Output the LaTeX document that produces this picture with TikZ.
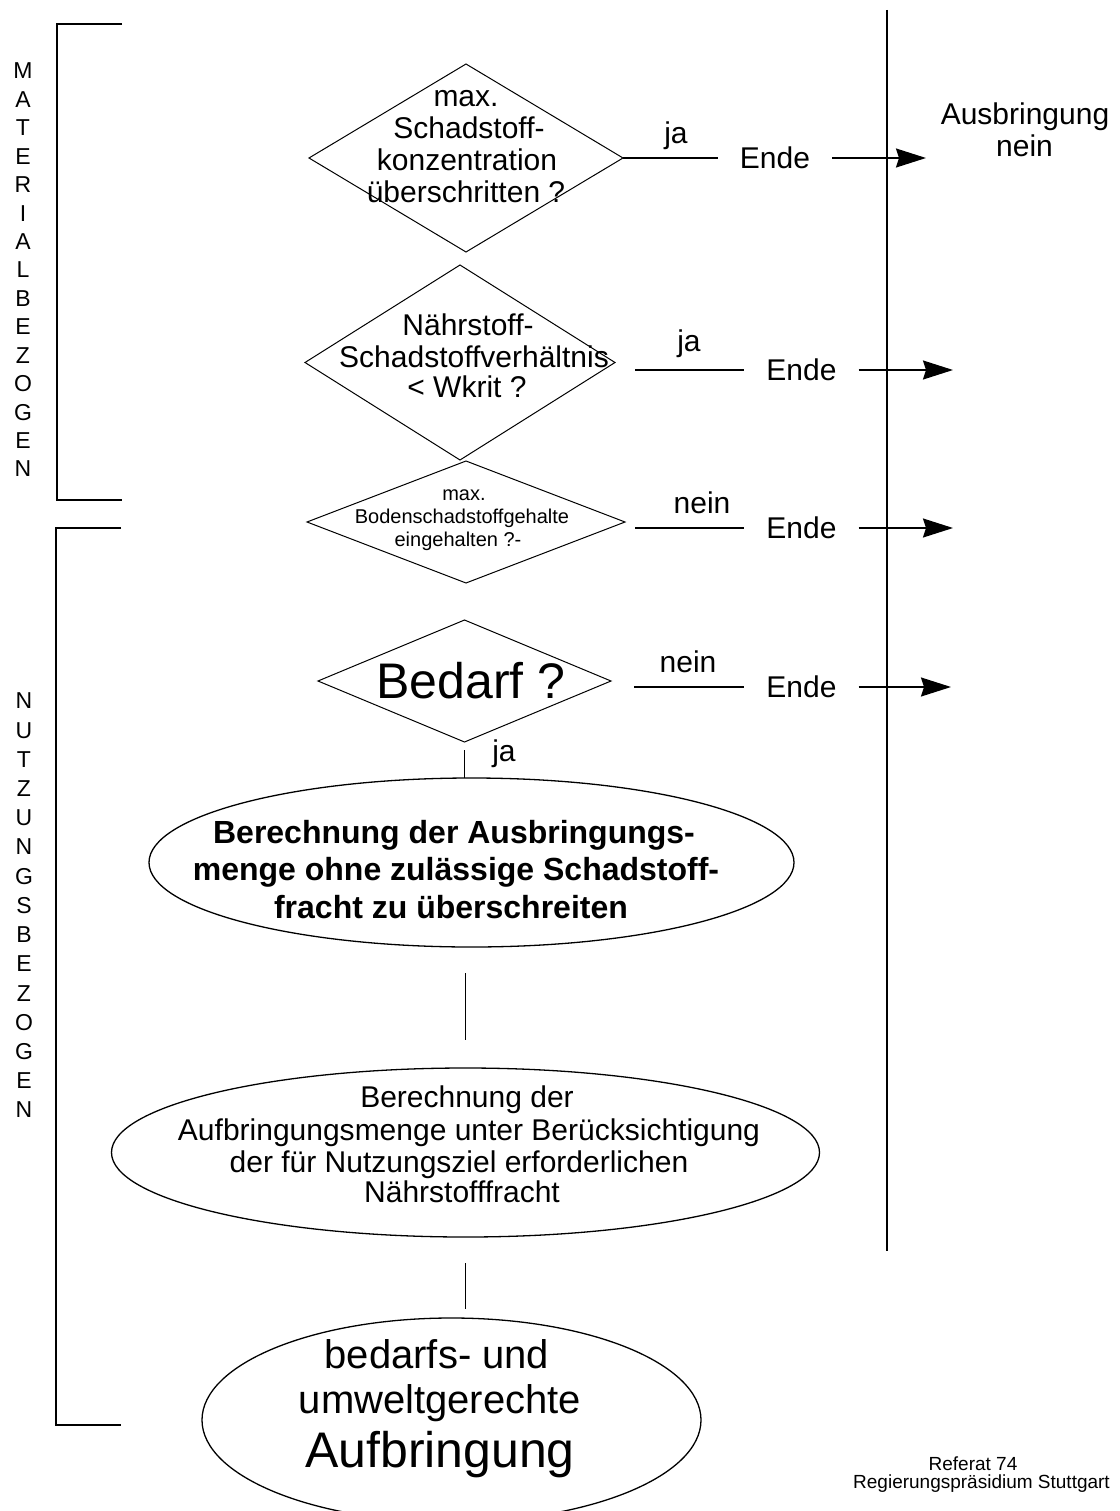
\documentclass[tikz,border=0pt]{standalone}
\usepackage{fontspec}
\setmainfont{Liberation Sans}
\usetikzlibrary{shapes.geometric,arrows.meta}
\begin{document}
\begin{tikzpicture}[x=1pt,y=-1pt,
  every node/.style={inner sep=0pt, outer sep=0pt},
  dia/.style={draw, diamond, line width=1pt},
  ell/.style={draw, ellipse, line width=1.3pt},
  conn/.style={line width=1.5pt},
  bracketline/.style={line width=2pt},
  arr/.style={line width=1.5pt, -{Stealth[length=30pt,width=19pt,inset=3pt]}},
  t30/.style={font=\fontsize{30}{32}\selectfont, anchor=base},
  t20/.style={font=\fontsize{20}{22}\selectfont, anchor=base},
  tb32/.style={font=\fontsize{32}{36}\selectfont\bfseries, anchor=base},
  t40/.style={font=\fontsize{40}{44}\selectfont, anchor=base},
  t50/.style={font=\fontsize{50}{54}\selectfont, anchor=base},
  t19/.style={font=\fontsize{19}{21}\selectfont, anchor=base},
  ende/.style={font=\fontsize{30}{32}\selectfont, inner xsep=22pt},
  vlet/.style={font=\fontsize{23}{23}\selectfont}
]
\fill[white] (0,0) rectangle (1119,1511);
\useasboundingbox (0,0) rectangle (1119,1511);

% brackets and vertical line
\draw[bracketline] (122,24) -- (57,24) -- (57,500) -- (122,500);
\draw[bracketline] (121,528) -- (56,528) -- (56,1425) -- (121,1425);
\draw[bracketline] (887,10) -- (887,1251);

% vertical labels
\foreach \c [count=\i from 0] in {M,A,T,E,R,I,A,L,B,E,Z,O,G,E,N}
  \node[vlet] (ma\i) at (23,71+28.43*\i) {\c};
\foreach \c [count=\i from 0] in {N,U,T,Z,U,N,G,S,B,E,Z,O,G,E,N}
  \node[vlet] (nu\i) at (24,701+29.21*\i) {\c};

% diamonds
\node[dia, minimum width=314pt, minimum height=188pt] (d1) at (466,158) {};
\node[dia, minimum width=310pt, minimum height=195pt] (d2) at (460,362.5) {};
\node[dia, minimum width=318pt, minimum height=122pt] (d3) at (466,522) {};
\node[dia, minimum width=293pt, minimum height=122pt] (d4) at (464.5,681) {};

% diamond texts
\node[t30] (d1a) at (466,107) {max.};
\node[t30] (d1b) at (469,139) {Schadstoff-};
\node[t30] (d1c) at (467,171) {konzentration};
\node[t30] (d1d) at (466,203) {überschritten ?};

\node[t30] (d2a) at (468,335) {Nährstoff-};
\node[t30] (d2b) at (474,367) {Schadstoffverhältnis};
\node[t30] (d2c) at (467,397) {< Wkrit ?};

\node[t20] (d3a) at (464,500) {max.};
\node[t20] (d3b) at (462,523) {Bodenschadstoffgehalte};
\node[t20] (d3c) at (458,546) {eingehalten ?-};

\node[t50] (d4a) at (471,698) {Bedarf ?};

% Ende nodes and arrow tips
\node[ende] (e1) at (775,158) {Ende};
\node[ende] (e2) at (801.5,370) {Ende};
\node[ende] (e3) at (801.5,528) {Ende};
\node[ende] (e4) at (801.5,687) {Ende};
\coordinate (tip1) at (926,158);
\coordinate (tip2) at (953,370);
\coordinate (tip3) at (953,528);
\coordinate (tip4) at (951,687);

\draw[conn] (d1.east) -- (e1.west);
\draw[conn, shorten <=20pt] (d2.east |- e2.west) -- (e2.west);
\draw[conn, shorten <=10pt] (d3.east |- e3.west) -- (e3.west);
\draw[conn, shorten <=23pt] (d4.east |- e4.west) -- (e4.west);
\draw[arr] (e1.east) -- (tip1);
\draw[arr] (e2.east) -- (tip2);
\draw[arr] (e3.east) -- (tip3);
\draw[arr] (e4.east) -- (tip4);

% branch labels
\node[t30] (ja1) at (676,144) {ja};
\node[t30] (ja2) at (689,351) {ja};
\node[t30] (nein3) at (702,513) {nein};
\node[t30] (nein4) at (688,672) {nein};
\node[t30] (ja4) at (504,761) {ja};

% Ausbringung nein
\node[t30] (aus1) at (1025,125) {Ausbringung};
\node[t30] (aus2) at (1024.5,157) {nein};

% ellipses
\node[ell, minimum width=645pt, minimum height=169pt] (el1) at (471.5,862.5) {};
\node[ell, minimum width=708pt, minimum height=169pt] (el2) at (465.5,1152.5) {};
\node[ell, minimum width=499pt, minimum height=204pt] (el3) at (451.5,1420) {};

\node[tb32] (el1a) at (454,843) {Berechnung der Ausbringungs-};
\node[tb32] (el1b) at (456,880) {menge ohne zulässige Schadstoff-};
\node[tb32] (el1c) at (451,918) {fracht zu überschreiten};

\node[t30] (el2a) at (467,1107) {Berechnung der};
\node[t30] (el2b) at (469,1140) {Aufbringungsmenge unter Berücksichtigung};
\node[t30] (el2c) at (459,1172) {der für Nutzungsziel erforderlichen};
\node[t30] (el2d) at (462,1202) {Nährstofffracht};

\node[t40] (el3a) at (437,1368) {bedarfs- und};
\node[t40] (el3b) at (440,1413) {umweltgerechte};
\node[t50] (el3c) at (440,1467) {Aufbringung};

% vertical connectors
\draw[conn, shorten <=8pt] (d4.south) -- (d4.south |- el1.north);
\draw[conn, shorten <=26pt, shorten >=28pt] (el1.south -| el2.north) -- (el2.north);
\draw[conn, shorten <=26pt, shorten >=9pt] (el2.south) -- (el2.south |- el3.north);

% footer
\node[t19] (ref1) at (973,1470) {Referat 74};
\node[t19] (ref2) at (981.5,1488) {Regierungspräsidium Stuttgart};
\end{tikzpicture}
\end{document}
